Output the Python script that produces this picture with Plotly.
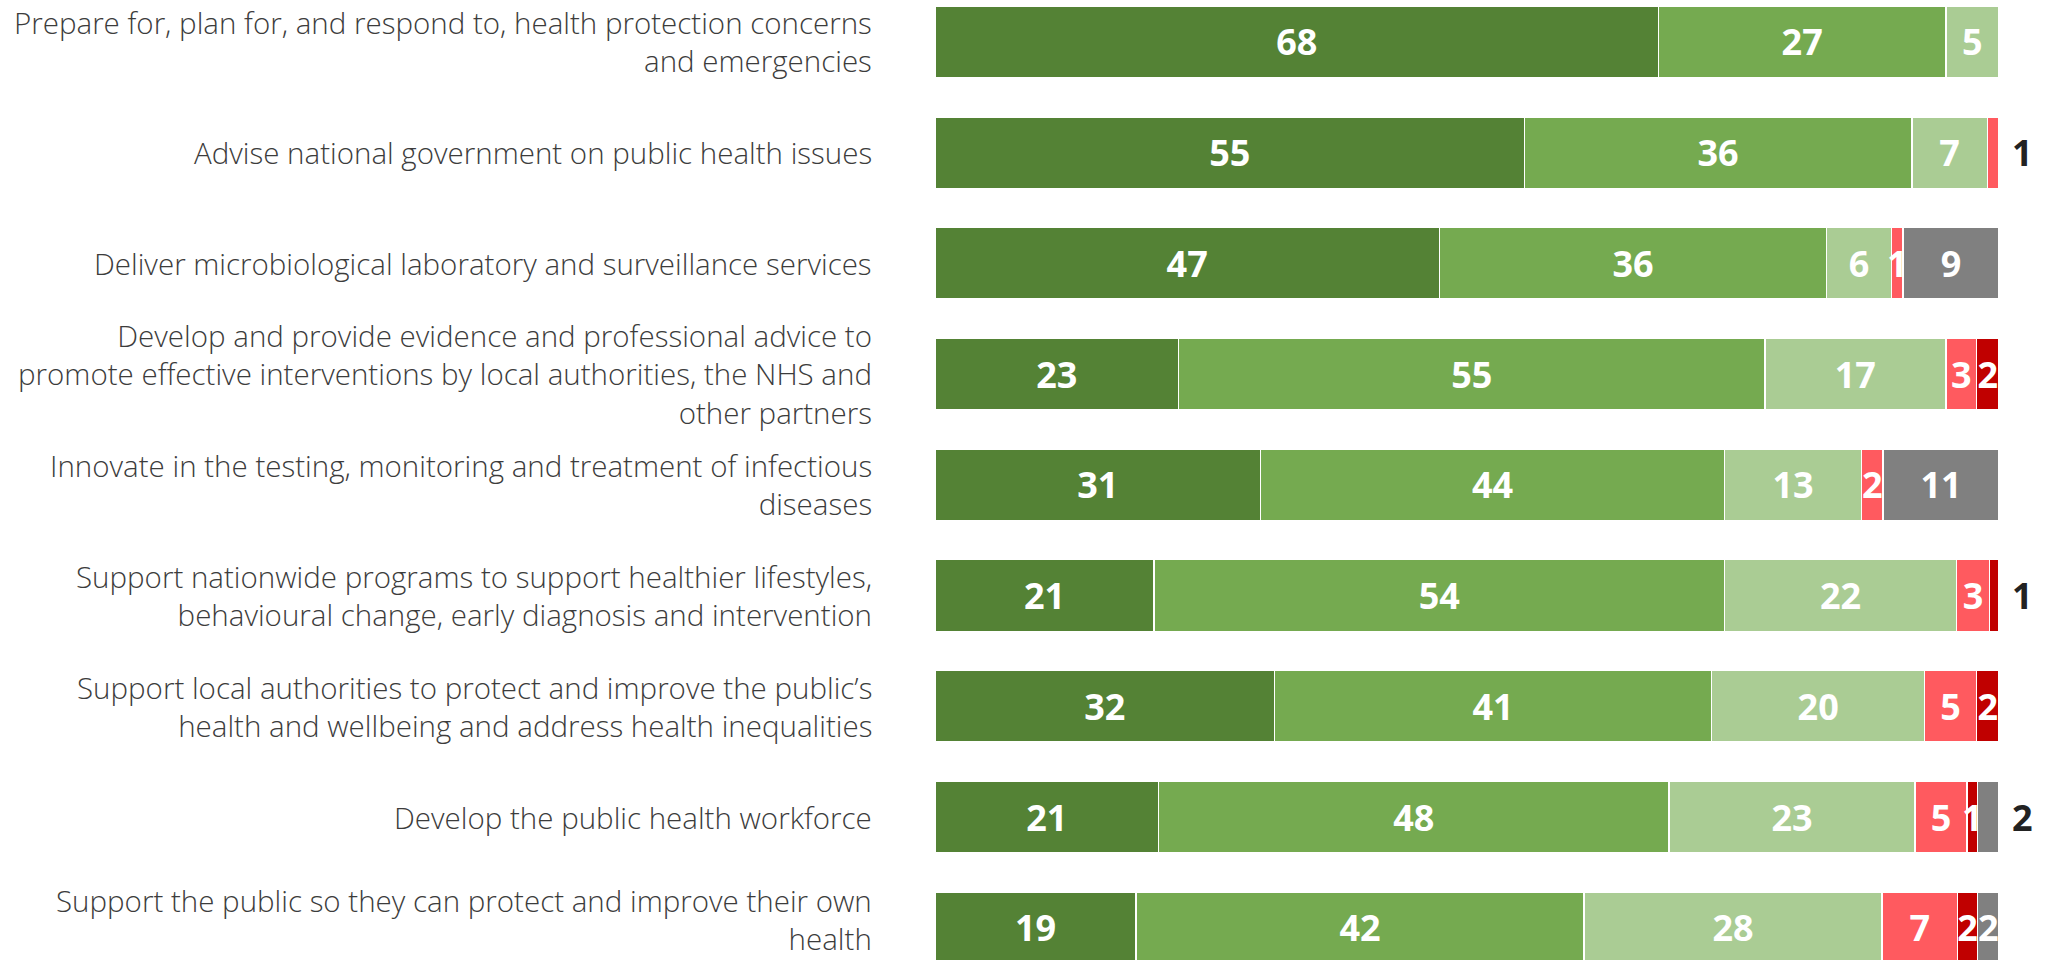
import plotly.graph_objects as go

categories = [
    "Prepare for, plan for, and respond to, health protection concerns<br>and emergencies",
    "Advise national government on public health issues",
    "Deliver microbiological laboratory and surveillance services",
    "Develop and provide evidence and professional advice to<br>promote effective interventions by local authorities, the NHS and<br>other partners",
    "Innovate in the testing, monitoring and treatment of infectious<br>diseases",
    "Support nationwide programs to support healthier lifestyles,<br>behavioural change, early diagnosis and intervention",
    "Support local authorities to protect and improve the public’s<br>health and wellbeing and address health inequalities",
    "Develop the public health workforce",
    "Support the public so they can protect and improve their own<br>health",
]

very_important = [68.0, 55.4, 47.4, 22.9, 30.6, 20.6, 31.9, 21.0, 18.9]
important = [27.0, 36.4, 36.4, 55.1, 43.6, 53.6, 41.1, 48.0, 42.1]
somewhat_important = [5.0, 7.1, 6.1, 17.0, 12.9, 21.8, 20.0, 23.1, 28.0]
not_very_important = [0, 1.1, 1.1, 2.9, 2.0, 3.1, 4.9, 4.9, 7.1]
not_at_all_important = [0, 0, 0, 2.1, 0, 0.9, 2.1, 1.0, 1.9]
dont_know = [0, 0, 9.0, 0, 10.9, 0, 0, 2.0, 2.0]

series_names = ["Very important", "Important", "Somewhat important",
                "Not very important", "Not at all important", "Don't know"]
series_values = [very_important, important, somewhat_important,
                 not_very_important, not_at_all_important, dont_know]
series_colors = ["#548235", "#75AA50", "#AACC94", "#FF5A5F", "#C00000", "#808080"]

# (row index, series index) whose label sits outside the bar end
outside_labels = [(1, 3), (5, 4), (7, 5)]

fig = go.Figure()
for s, (name, vals, col) in enumerate(zip(series_names, series_values, series_colors)):
    xs = [v if v > 0 else None for v in vals]
    texts = []
    for r, v in enumerate(vals):
        if v > 0 and (r, s) not in outside_labels:
            texts.append(f"{v:.0f}")
        else:
            texts.append("")
    fig.add_trace(go.Bar(
        name=name, y=categories, x=xs, orientation="h",
        marker=dict(color=col, line=dict(color="white", width=1.5)),
        text=texts, textposition="inside", insidetextanchor="middle",
        textangle=0, constraintext="none",
        textfont=dict(family="Open Sans", size=36, color="white", weight="bold"),
        hoverinfo="skip",
    ))

for r, s in outside_labels:
    total = sum(sv[r] for sv in series_values)
    fig.add_annotation(
        x=total, y=categories[r], xref="x", yref="y",
        text=f"{series_values[s][r]:.0f}", showarrow=False,
        xanchor="left", xshift=11,
        font=dict(family="Open Sans", size=36, color="#222222", weight="bold"),
    )

# category labels drawn as right-aligned annotations beside each bar
label_font = dict(family="Open Sans", size=29.5, color="#3c3c3c", weight=300)
for i, cat in enumerate(categories):
    fig.add_annotation(
        x=0, xref="paper", y=cat, yref="y",
        text=cat, showarrow=False, align="right",
        xanchor="right", yanchor="middle", xshift=-61,
        yshift=(8 if i == len(categories) - 1 else 0),
        font=label_font,
    )

fig.update_layout(
    barmode="stack",
    bargap=0.353,
    width=2051, height=960,
    margin=dict(l=935, r=52, t=0, b=0, pad=0),
    paper_bgcolor="white", plot_bgcolor="white",
    showlegend=False,
    hovermode=False,
    uniformtext=dict(minsize=36, mode="show"),
    xaxis=dict(range=[0, 100], visible=False, fixedrange=True),
    yaxis=dict(
        type="category", range=[8.291, -0.378],
        showgrid=False, zeroline=False, showline=False, ticks="",
        showticklabels=False, automargin=False, fixedrange=True,
    ),
)

fig.write_html("out.html", config={"displayModeBar": False},
               post_script="document.body.style.margin='0px';")
